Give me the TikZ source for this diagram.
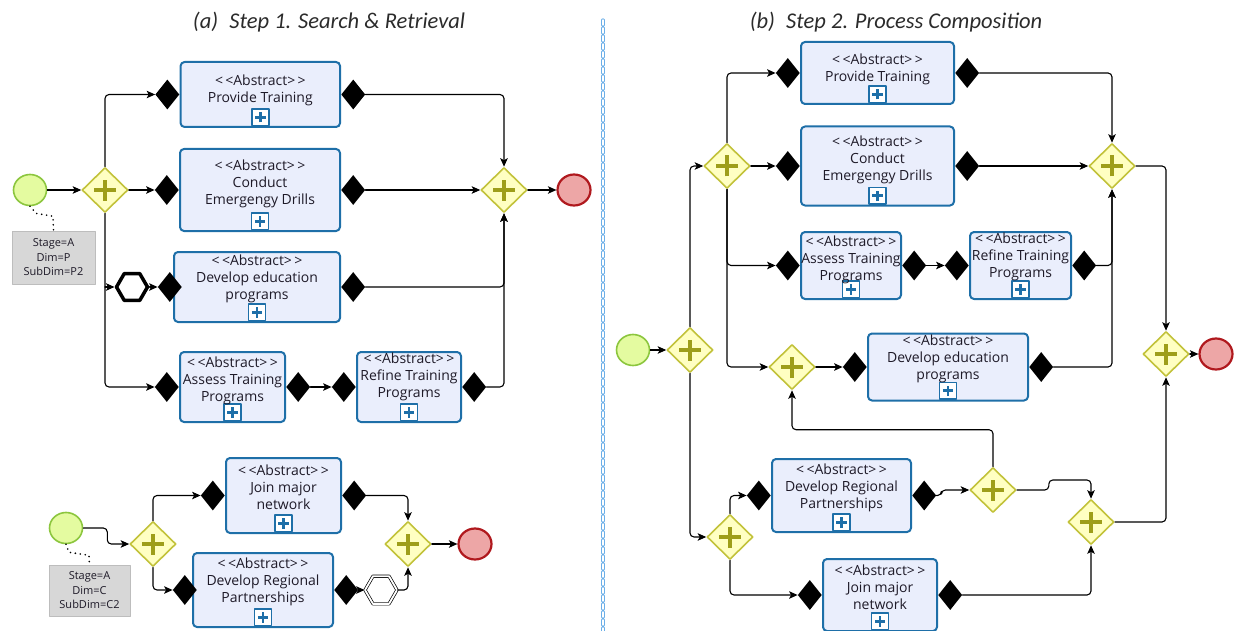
\documentclass[tikz,border=0pt]{standalone}
\usepackage{fontspec}
\setmainfont{Open Sans}
\newfontfamily\titlefont{Carlito}
\usetikzlibrary{arrows.meta}
\usetikzlibrary{shapes}

\definecolor{taskblue}{HTML}{1E6FA8}
\definecolor{taskfill}{HTML}{EAEEFC}
\definecolor{tasktext}{HTML}{1E1A28}
\definecolor{gwline}{HTML}{C2C23A}
\definecolor{gwfill}{HTML}{FFFFC2}
\definecolor{gwplus}{HTML}{9E9E1A}
\definecolor{startline}{HTML}{8CC63E}
\definecolor{startfill}{HTML}{E4FBA0}
\definecolor{endline}{HTML}{B0191E}
\definecolor{endfill}{HTML}{EDA6A6}
\definecolor{noteline}{HTML}{BDBDBD}
\definecolor{notefill}{HTML}{D7D7D7}
\definecolor{titletext}{HTML}{2B2B2B}
\definecolor{sepblue}{HTML}{6AAEE8}

\newcommand{\abst}{<\,<Abstract>\,>}

\begin{document}
\begin{tikzpicture}[x=1pt, y=-1pt, line join=round, line cap=round,
  task/.style={draw=taskblue, fill=taskfill, line width=2pt, rounded corners=4pt, inner sep=0pt,
    path picture={
      \draw[taskblue, line width=1.5pt, fill=white, rounded corners=0pt]
        ([xshift=-8.5pt,yshift=1.5pt]path picture bounding box.south) rectangle ([xshift=8.5pt,yshift=18pt]path picture bounding box.south);
      \draw[taskblue, line width=2.6pt, line cap=butt]
        ([yshift=4.5pt]path picture bounding box.south) -- ([yshift=15pt]path picture bounding box.south)
        ([xshift=-5.25pt,yshift=9.75pt]path picture bounding box.south) -- ([xshift=5.25pt,yshift=9.75pt]path picture bounding box.south);
    }},
  tasklbl/.style={align=center, text=tasktext, font=\fontsize{14}{17}\selectfont, inner sep=0pt},
  port/.style={diamond, fill=black, minimum width=24pt, minimum height=30pt, inner sep=0pt},
  gate/.style={diamond, draw=gwline, fill=gwfill, line width=1.6pt, minimum width=46pt, minimum height=45pt, inner sep=0pt,
    path picture={\draw[gwplus, line width=4.5pt, line cap=butt]
      ([xshift=-11pt]path picture bounding box.center) -- ([xshift=11pt]path picture bounding box.center)
      ([yshift=-10.5pt]path picture bounding box.center) -- ([yshift=10.5pt]path picture bounding box.center);}},
  start/.style={ellipse, draw=startline, fill=startfill, line width=1.6pt, minimum width=33pt, minimum height=31pt, inner sep=0pt},
  finish/.style={ellipse, draw=endline, fill=endfill, line width=2.2pt, minimum width=33pt, minimum height=31pt, inner sep=0pt},
  loopmark/.style={regular polygon, regular polygon sides=6, draw=black, fill=white, line width=3.5pt, minimum size=31pt, inner sep=0pt},
  multimark/.style={regular polygon, regular polygon sides=6, draw=black, double=white, double distance=1.8pt, line width=0.7pt, minimum size=32pt, inner sep=0pt},
  note/.style={draw=noteline, fill=notefill, line width=0.8pt, align=center, text=tasktext, font=\fontsize{11}{14.5}\selectfont, inner sep=0pt},
  assoc/.style={draw=black, line width=1.8pt, dash pattern=on 0pt off 5pt, line cap=round},
  flow/.style={draw=black, line width=1.1pt, rounded corners=4pt, -{Stealth[length=8.5pt, width=7.5pt, inset=2pt]}},
  title/.style={font=\titlefont\itshape\fontsize{22.5}{26}\selectfont, text=titletext, inner sep=0pt},
  sepline/.style={draw=sepblue, line width=0.9pt, double=white, double distance=1.4pt, dash pattern=on 5pt off 3pt}]

\useasboundingbox (0,0) rectangle (1238,631);

% titles and separator
\node[title] (titA) at (329,22) {(a)\hspace{0.5em}Step 1. Search \& Retrieval};
\node[title] (titB) at (896,22) {(b)\hspace{0.5em}Step 2. Process Composition};
\draw[sepline] (603,20) -- (603,631);

% ---------- (a) upper process ----------
\node[start] (S1) at (30,190) {};
\node[gate] (G1) at (105,190) {};
\node[gate] (G2) at (504,190) {};
\node[finish] (E1) at (574,190) {};
\node[note, minimum width=83pt, minimum height=53pt] (noteA) at (53.5,257.5) {Stage=A\\Dim=P\\SubDim=P2};

\node[task, minimum width=159.5pt, minimum height=65pt, label={[tasklbl, yshift=4pt]center:{\abst\\Provide Training}}] (ptA) at (260.3,94.5) {};
\node[task, minimum width=160pt, minimum height=82pt, label={[tasklbl, yshift=6pt]center:{\abst\\Conduct\\Emergengy Drills}}] (cedA) at (260,190) {};
\node[task, minimum width=166pt, minimum height=70pt, label={[tasklbl, yshift=8pt]center:{\abst\\Develop education\\programs}}] (deA) at (257,287) {};
\node[task, minimum width=105pt, minimum height=70pt, label={[tasklbl, yshift=6pt]center:{\abst\\Assess Training\\Programs}}] (atA) at (232.5,387) {};
\node[task, minimum width=104pt, minimum height=70pt, label={[tasklbl, yshift=10pt]center:{\abst\\Refine Training\\Programs}}] (rtA) at (409,387) {};
\node[loopmark] (hexA) at (132,287) {};

\node[port, anchor=east] (ptAin) at (ptA.west) {};
\node[port, anchor=west] (ptAout) at (ptA.east) {};
\node[port, anchor=east] (cedAin) at (cedA.west) {};
\node[port, anchor=west] (cedAout) at (cedA.east) {};
\node[port, anchor=east] (deAin) at ([xshift=9pt]deA.west) {};
\node[port, anchor=west] (deAout) at (deA.east) {};
\node[port, anchor=east] (atAin) at (atA.west) {};
\node[port, anchor=west] (atAout) at (atA.east) {};
\node[port, anchor=east] (rtAin) at (rtA.west) {};
\node[port, anchor=west] (rtAout) at (rtA.east) {};

\draw[assoc] (S1.south) -- ++(6,7) -- ++(17,3) -- (noteA.north);
\draw[flow] (S1.east) -- (G1.west);
\draw[flow] (G1.north) |- (ptAin.west);
\draw[flow] (G1.east) -- (cedAin.west);
\draw[flow] (G1.south) |- (atAin.west);
\draw[flow] (G1.south |- hexA.west) -- (hexA.west);
\draw[flow] (hexA.east) -- (deAin.west);
\draw[flow] (atAout.east) -- (rtAin.west);
\draw[flow] (ptAout.east) -| (G2.north);
\draw[flow] (cedAout.east) -- (G2.west);
\draw[flow] (deAout.east) -| (G2.south);
\draw[flow] (rtAout.east) -| (G2.south);
\draw[flow] (G2.east) -- (E1.west);

% ---------- (a) lower process ----------
\node[start] (S2) at (66,528) {};
\node[gate] (G3) at (153,544) {};
\node[gate] (G4) at (408,544) {};
\node[finish] (E2) at (475,544) {};
\node[note, minimum width=81pt, minimum height=51pt] (noteB) at (89.5,590.5) {Stage=A\\Dim=C\\SubDim=C2};

\node[task, minimum width=115pt, minimum height=75pt, label={[tasklbl, yshift=8pt]center:{\abst\\Join major\\network}}] (jmA) at (283.5,495.5) {};
\node[task, minimum width=140pt, minimum height=74pt, label={[tasklbl, yshift=8pt]center:{\abst\\Develop Regional\\Partnerships}}] (drA) at (263,590) {};
\node[multimark] (hexB) at (381,590) {};

\node[port, anchor=east] (jmAin) at (jmA.west) {};
\node[port, anchor=west] (jmAout) at (jmA.east) {};
\node[port, anchor=east] (drAin) at ([xshift=5pt]drA.west) {};
\node[port, anchor=west] (drAout) at (drA.east) {};

\draw[assoc] (S2.south) -- ++(3,8) -- ++(20,3) -- (noteB.north);
\draw[flow] (S2.east) -- ++(24,0) |- (G3.west);
\draw[flow] (G3.north) |- (jmAin.west);
\draw[flow] (G3.south) |- (drAin.west);
\draw[flow] (jmAout.east) -| (G4.north);
\draw[flow] (drAout.east) -- (hexB.west);
\draw[flow] (hexB.east) -| (G4.south);
\draw[flow] (G4.east) -- (E2.west);

% ---------- (b) composed process ----------
\node[start] (S3) at (633,350) {};
\node[gate] (G5) at (690,350) {};
\node[gate] (G6) at (727,166) {};
\node[gate] (G7) at (1112,166) {};
\node[gate] (G8) at (1166,354) {};
\node[finish] (E3) at (1216,354) {};
\node[gate] (G9) at (792,367) {};
\node[gate] (G10) at (730,537) {};
\node[gate] (G11) at (993,490) {};
\node[gate] (G12) at (1091,522) {};

\node[task, minimum width=153pt, minimum height=62pt, label={[tasklbl, yshift=4pt]center:{\abst\\Provide Training}}] (ptB) at (877.5,73) {};
\node[task, minimum width=153pt, minimum height=79pt, label={[tasklbl, yshift=6pt]center:{\abst\\Conduct\\Emergengy Drills}}] (cedB) at (877.5,166) {};
\node[task, minimum width=100pt, minimum height=67pt, label={[tasklbl, yshift=6pt]center:{\abst\\Assess Training\\Programs}}] (atB) at (851,265.5) {};
\node[task, minimum width=101pt, minimum height=67pt, label={[tasklbl, yshift=9pt]center:{\abst\\Refine Training\\Programs}}] (rtB) at (1020.5,265.5) {};
\node[task, minimum width=160pt, minimum height=67pt, label={[tasklbl, yshift=8pt]center:{\abst\\Develop education\\programs}}] (deB) at (948,367) {};
\node[task, minimum width=139pt, minimum height=73pt, label={[tasklbl, yshift=8pt]center:{\abst\\Develop Regional\\Partnerships}}] (drB) at (841.5,495.5) {};
\node[task, minimum width=114pt, minimum height=72pt, label={[tasklbl, yshift=8pt]center:{\abst\\Join major\\network}}] (jmB) at (880,595) {};

\node[port, anchor=east] (ptBin) at (ptB.west) {};
\node[port, anchor=west] (ptBout) at (ptB.east) {};
\node[port, anchor=east] (cedBin) at (cedB.west) {};
\node[port, anchor=west] (cedBout) at (cedB.east) {};
\node[port, anchor=east] (atBin) at (atB.west) {};
\node[port, anchor=west] (atBout) at (atB.east) {};
\node[port, anchor=east] (rtBin) at (rtB.west) {};
\node[port, anchor=west] (rtBout) at (rtB.east) {};
\node[port, anchor=east] (deBin) at (deB.west) {};
\node[port, anchor=west] (deBout) at (deB.east) {};
\node[port, anchor=east] (drBin) at (drB.west) {};
\node[port, anchor=west] (drBout) at (drB.east) {};
\node[port, anchor=east] (jmBin) at (jmB.west) {};
\node[port, anchor=west] (jmBout) at (jmB.east) {};

\draw[flow] (S3.east) -- (G5.west);
\draw[flow] (G5.north) |- (G6.west);
\draw[flow] (G5.south) |- (G10.west);
\draw[flow] (G6.north) |- (ptBin.west);
\draw[flow] (G6.east) -- (cedBin.west);
\draw[flow] (G6.south) |- (atBin.west);
\draw[flow] (G6.south) |- (G9.west);
\draw[flow] (atBout.east) -- (rtBin.west);
\draw[flow] (G9.east) -- (deBin.west);
\draw[flow] (G10.north) |- (drBin.west);
\draw[flow] (G10.south) |- (jmBin.west);
\draw[flow] (drBout.east) -- ++(5,0) |- (G11.west);
\draw[flow] (G11.north) -- ++(0,-37) -| (G9.south);
\draw[flow] (G11.east) -- ++(32,0) -- ++(0,-10) -| (G12.north);
\draw[flow] (jmBout.east) -| (G12.south);
\draw[flow] (ptBout.east) -| (G7.north);
\draw[flow] (cedBout.east) -- (G7.west);
\draw[flow] (rtBout.east) -| (G7.south);
\draw[flow] (deBout.east) -| (G7.south);
\draw[flow] (G7.east) -| (G8.north);
\draw[flow] (G12.east) -| (G8.south);
\draw[flow] (G8.east) -- (E3.west);

\end{tikzpicture}
\end{document}
